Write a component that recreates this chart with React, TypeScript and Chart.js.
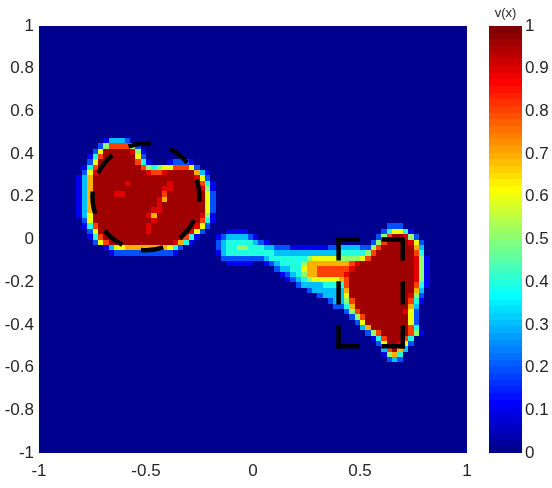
import React, { useEffect, useRef } from "react";
import { Chart, registerables } from "chart.js";

Chart.register(...registerables);

// ---- axis ticks ----
const X_TICKS = [-1, -0.5, 0, 0.5, 1];
const Y_TICKS = [-1, -0.8, -0.6, -0.4, -0.2, 0, 0.2, 0.4, 0.6, 0.8, 1];
const COLOR_TICKS = [0, 0.1, 0.2, 0.3, 0.4, 0.5, 0.6, 0.7, 0.8, 0.9, 1];
const COLORBAR_LABEL = "v(x)";

// ---- field v(x) sampled on a grid (data units) ----
const GRID_X0 = -0.85; // left edge of first column
const GRID_Y0 = 0.55; // top edge of first row
const GRID_STEP = 0.025;
const LEVEL_CODES = ["0", "1", "2", "3", "4", "5", "6", "7", "8", "9", "R"];
const LEVEL_VALUES = [0, 0.1, 0.2, 0.3, 0.4, 0.5, 0.6, 0.7, 0.8, 0.9, 0.955];
const GRID_ROWS = [
  "0000000000 0000000000 0000000000 0000000000 0000000000 0000000000 00000000",
  "0000000000 0000000000 0000000000 0000000000 0000000000 0000000000 00000000",
  "0000000000 0000000000 0000000000 0000000000 0000000000 0000000000 00000000",
  "0000001333 2000000000 0000000000 0000000000 0000000000 0000000000 00000000",
  "0000025888 8520000000 0000000000 0000000000 0000000000 0000000000 00000000",
  "000026RRRR R951000000 0000000000 0000000000 0000000000 0000000000 00000000",
  "000148RRRR RR62000000 0000000000 0000000000 0000000000 0000000000 00000000",
  "00026RRRRR RR84100012 2210000000 0000000000 0000000000 0000000000 00000000",
  "00148RRRRR RRR8545668 8862000000 0000000000 0000000000 0000000000 00000000",
  "00269RRRRR RRRR9889RR RRR7310000 0000000000 0000000000 0000000000 00000000",
  "0137RRRRRR RRRRRRRRRR RRR9620000 0000000000 0000000000 0000000000 00000000",
  "0137RRRRRR 9RRRRRRR9R RRRR841000 0000000000 0000000000 0000000000 00000000",
  "0137RRRRRR RRRRRRR99R RRRR951000 0000000000 0000000000 0000000000 00000000",
  "0137RRRR99 RRRRRRR8RR RRRRR62000 0000000000 0000000000 0000000000 00000000",
  "0137RRRRRR RRRRRR97RR RRRRR62000 0000000000 0000000000 0000000000 00000000",
  "0137RRRRRR RRRRRR9RRR RRRRR62000 0000000000 0000000000 0000000000 00000000",
  "0137RRRRRR RRRRR99RRR RRRRR62000 0000000000 0000000000 0000000000 00000000",
  "0136RRRRRR RRRR97RRRR RRRR951000 0000000000 0000000000 0000000000 00000000",
  "0026RRRRRR RRRRR9RRRR RRRR841000 0000000000 0000000000 0000000000 00000000",
  "00148RRRRR RRRR9RRRRR RRR9620000 0000000000 0000000000 0000000002 22000000",
  "00026RRRRR RRRR9RRRRR RR96200001 1110000000 0000000000 0000000024 66410000",
  "000148RRRR RRRRRRRRRR R841000123 3332100000 0000000000 0000000258 RR952000",
  "0000268RRR RRRRRRRRR9 7410000234 4444321000 0000000000 000000258R RRR96200",
  "0000001366 7777777764 2000000234 4554443322 2111111122 33332258RR RRRR7300",
  "0000000122 2222222221 0000000134 4444444433 3333333333 4444458RRR RRRR8400",
  "0000000000 0000000000 0000000022 2222223444 4444566666 555568RRRR RRRR9510",
  "0000000000 0000000000 0000000001 1111001234 4445777777 7789RRRRRR RRRR9510",
  "0000000000 0000000000 0000000000 0000000023 3446778888 889RRRRRRR RRRR9510",
  "0000000000 0000000000 0000000000 0000000001 2345778888 89RRRRRRRR RRRR9510",
  "0000000000 0000000000 0000000000 0000000000 1234566666 78RRRRRRRR RRRR9510",
  "0000000000 0000000000 0000000000 0000000000 0023333444 48RRRRRRRR RRRR8410",
  "0000000000 0000000000 0000000000 0000000000 0000233333 37RRRRRRRR RRRR7300",
  "0000000000 0000000000 0000000000 0000000000 0000002333 36RRRRRRRR RRR95200",
  "0000000000 0000000000 0000000000 0000000000 0000000023 358RRRRRRR RRR84100",
  "0000000000 0000000000 0000000000 0000000000 0000000002 247RRRRRRR RRR73000",
  "0000000000 0000000000 0000000000 0000000000 0000000000 0258RRRRRR RR962000",
  "0000000000 0000000000 0000000000 0000000000 0000000000 00258RRRRR RRR62000",
  "0000000000 0000000000 0000000000 0000000000 0000000000 00026RRRRR RRR62000",
  "0000000000 0000000000 0000000000 0000000000 0000000000 000037RRRR RRR84000",
  "0000000000 0000000000 0000000000 0000000000 0000000000 00000258RR RRR85100",
  "0000000000 0000000000 0000000000 0000000000 0000000000 000000148R RR840000",
  "0000000000 0000000000 0000000000 0000000000 0000000000 000000026R R9620000",
  "0000000000 0000000000 0000000000 0000000000 0000000000 0000000038 R7300000",
  "0000000000 0000000000 0000000000 0000000000 0000000000 0000000015 74000000",
  "0000000000 0000000000 0000000000 0000000000 0000000000 0000000002 32000000",
  "0000000000 0000000000 0000000000 0000000000 0000000000 0000000000 00000000",
  "0000000000 0000000000 0000000000 0000000000 0000000000 0000000000 00000000",
  "0000000000 0000000000 0000000000 0000000000 0000000000 0000000000 00000000",
];

// ---- overlays (data units) ----
const CIRCLE_CENTER = [-0.5, 0.2];
const CIRCLE_RADIUS = 0.25;
const RECT_X = [0.4, 0.7];
const RECT_Y = [-0.5, 0];

const TEXT_COLOR = "#262626";
const FONT_FAMILY = "'Liberation Sans', Arial, Helvetica, sans-serif";

// MATLAB jet(64)
function jetColor(k: number): string {
  const u = (t: number) => {
    if (t < 1 || t > 47) return 0;
    if (t <= 16) return t / 16;
    if (t <= 31) return 1;
    return (48 - t) / 16;
  };
  const row = k + 1;
  const r = u(row - 24);
  const g = u(row - 8);
  const b = u(row + 8);
  return `rgb(${Math.round(r * 255)},${Math.round(g * 255)},${Math.round(b * 255)})`;
}
function colorIndex(v: number): number {
  return Math.max(0, Math.min(63, Math.floor(v * 64)));
}
function fmt(v: number | string): string {
  return String(Number(Number(v).toFixed(2)));
}

const heatmapPlugin = {
  id: "heatmap",
  beforeDatasetsDraw(chart: any) {
    const { ctx, chartArea, scales } = chart;
    const xs = scales.x;
    const ys = scales.y;
    ctx.save();
    ctx.beginPath();
    ctx.rect(chartArea.left, chartArea.top, chartArea.width, chartArea.height);
    ctx.clip();
    ctx.fillStyle = jetColor(0);
    ctx.fillRect(chartArea.left, chartArea.top, chartArea.width, chartArea.height);
    GRID_ROWS.forEach((rawRow, j) => {
      const row = rawRow.replace(/ /g, "");
      const t = Math.round(ys.getPixelForValue(GRID_Y0 - j * GRID_STEP));
      const b = Math.round(ys.getPixelForValue(GRID_Y0 - (j + 1) * GRID_STEP));
      for (let i = 0; i < row.length; i++) {
        const v = LEVEL_VALUES[LEVEL_CODES.indexOf(row[i])] || 0;
        if (v <= 0) continue;
        const l = Math.round(xs.getPixelForValue(GRID_X0 + i * GRID_STEP));
        const r = Math.round(xs.getPixelForValue(GRID_X0 + (i + 1) * GRID_STEP));
        ctx.fillStyle = jetColor(colorIndex(v));
        ctx.fillRect(l, t, r - l, b - t);
      }
    });
    ctx.restore();
  },
  afterDatasetsDraw(chart: any) {
    const { ctx, scales } = chart;
    const xs = scales.x;
    const ys = scales.y;
    const lw = 4.5;
    ctx.save();
    ctx.strokeStyle = "#000";
    ctx.lineWidth = lw;
    ctx.lineCap = "butt";
    // dashed circle
    const cx = xs.getPixelForValue(CIRCLE_CENTER[0]);
    const cy = ys.getPixelForValue(CIRCLE_CENTER[1]);
    const rx = Math.abs(xs.getPixelForValue(CIRCLE_CENTER[0] + CIRCLE_RADIUS) - cx);
    const ry = Math.abs(ys.getPixelForValue(CIRCLE_CENTER[1] + CIRCLE_RADIUS) - cy);
    const per = Math.PI * (rx + ry);
    const period = per / 8;
    const dash = period * 0.54;
    const start = -Math.PI / 2 - dash / 2 / ((rx + ry) / 2) - 0.12;
    ctx.setLineDash([dash, period - dash]);
    ctx.beginPath();
    ctx.ellipse(cx, cy, rx, ry, 0, start, start + Math.PI * 2);
    ctx.stroke();
    // dashed rectangle, each side fitted so corners are dashes
    const x0 = xs.getPixelForValue(RECT_X[0]);
    const x1 = xs.getPixelForValue(RECT_X[1]);
    const y0 = ys.getPixelForValue(RECT_Y[1]);
    const y1 = ys.getPixelForValue(RECT_Y[0]);
    const e = lw / 2;
    const sides = [
      [x0 - e, y0, x1 + e, y0],
      [x1, y0 - e, x1, y1 + e],
      [x1 + e, y1, x0 - e, y1],
      [x0, y1 + e, x0, y0 - e],
    ];
    const d0 = 20;
    const g0 = 18;
    sides.forEach(([ax, ay, bx, by]) => {
      const L = Math.hypot(bx - ax, by - ay);
      const n = Math.max(1, Math.round((L + g0) / (d0 + g0)));
      const s = L / (n * d0 + (n - 1) * g0);
      ctx.setLineDash([d0 * s, g0 * s]);
      ctx.beginPath();
      ctx.moveTo(ax, ay);
      ctx.lineTo(bx, by);
      ctx.stroke();
    });
    ctx.restore();
  },
};

const colorbarPlugin = {
  id: "colorbarFill",
  beforeDatasetsDraw(chart: any) {
    const { ctx, chartArea, scales } = chart;
    const ys = scales.y;
    ctx.save();
    for (let k = 0; k < 64; k++) {
      const t = Math.round(ys.getPixelForValue((k + 1) / 64));
      const b = Math.round(ys.getPixelForValue(k / 64));
      ctx.fillStyle = jetColor(k);
      ctx.fillRect(chartArea.left, t, chartArea.width, b - t);
    }
    ctx.restore();
  },
  afterDraw(chart: any) {
    const { ctx, chartArea } = chart;
    ctx.save();
    ctx.fillStyle = TEXT_COLOR;
    ctx.font = `13px ${FONT_FAMILY}`;
    ctx.textAlign = "center";
    ctx.textBaseline = "middle";
    ctx.fillText(COLORBAR_LABEL, (chartArea.left + chartArea.right) / 2, 13);
    ctx.restore();
  },
};

export default function App() {
  const mainRef = useRef<HTMLCanvasElement | null>(null);
  const barRef = useRef<HTMLCanvasElement | null>(null);

  useEffect(() => {
    const tickFont = { family: FONT_FAMILY, size: 17 };
    const main = new Chart(mainRef.current as HTMLCanvasElement, {
      type: "scatter",
      data: { datasets: [{ data: [], pointRadius: 0 }] },
      options: {
        animation: false,
        responsive: false,
        devicePixelRatio: 1,
        layout: { padding: { left: 0, top: 26, right: 13, bottom: 0 } },
        plugins: { legend: { display: false }, tooltip: { enabled: false } },
        scales: {
          x: {
            type: "linear",
            min: -1,
            max: 1,
            grid: { display: false, drawTicks: false },
            border: { display: false },
            afterBuildTicks: (s: any) => {
              s.ticks = X_TICKS.map((v) => ({ value: v }));
            },
            afterFit: (s: any) => {
              s.height = 35;
            },
            ticks: {
              color: TEXT_COLOR,
              font: tickFont,
              padding: 8,
              maxRotation: 0,
              autoSkip: false,
              callback: (v: any) => fmt(v),
            },
          },
          y: {
            type: "linear",
            min: -1,
            max: 1,
            grid: { display: false, drawTicks: false },
            border: { display: false },
            afterBuildTicks: (s: any) => {
              s.ticks = Y_TICKS.map((v) => ({ value: v }));
            },
            afterFit: (s: any) => {
              s.width = 39;
            },
            ticks: {
              color: TEXT_COLOR,
              font: tickFont,
              padding: 5,
              autoSkip: false,
              callback: (v: any) => fmt(v),
            },
          },
        },
      } as any,
      plugins: [heatmapPlugin],
    });

    const bar = new Chart(barRef.current as HTMLCanvasElement, {
      type: "scatter",
      data: { datasets: [{ data: [], pointRadius: 0 }] },
      options: {
        animation: false,
        responsive: false,
        devicePixelRatio: 1,
        layout: { padding: { left: 9, top: 26, right: 0, bottom: 35 } },
        plugins: { legend: { display: false }, tooltip: { enabled: false } },
        scales: {
          x: { type: "linear", min: 0, max: 1, display: false },
          y: {
            type: "linear",
            position: "right",
            min: 0,
            max: 1,
            grid: { display: false, drawTicks: false },
            border: { display: false },
            afterBuildTicks: (s: any) => {
              s.ticks = COLOR_TICKS.map((v) => ({ value: v }));
            },
            afterFit: (s: any) => {
              s.width = 30;
            },
            ticks: {
              color: TEXT_COLOR,
              font: tickFont,
              padding: 3,
              autoSkip: false,
              callback: (v: any) => fmt(v),
            },
          },
        },
      } as any,
      plugins: [colorbarPlugin],
    });

    return () => {
      main.destroy();
      bar.destroy();
    };
  }, []);

  return (
    <div
      style={{
        position: "fixed",
        left: 0,
        top: 0,
        width: 552,
        height: 488,
        background: "#ffffff",
        overflow: "hidden",
      }}
    >
      <canvas
        ref={mainRef}
        width={480}
        height={488}
        style={{ position: "absolute", left: 0, top: 0, width: 480, height: 488 }}
      />
      <canvas
        ref={barRef}
        width={72}
        height={488}
        style={{ position: "absolute", left: 480, top: 0, width: 72, height: 488 }}
      />
    </div>
  );
}
